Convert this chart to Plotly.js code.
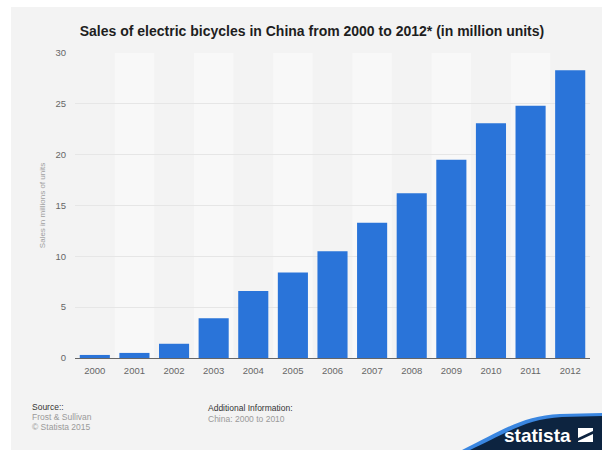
<!DOCTYPE html>
<html>
<head>
<meta charset="utf-8">
<script src="https://cdn.plot.ly/plotly-3.0.1.min.js"></script>
<style>
html,body{margin:0;padding:0;background:#ffffff;}
#chart{position:absolute;left:11px;top:7px;width:591px;height:443px;}
</style>
</head>
<body>
<div id="chart"></div>
<script>
// ---- data ----
var years = ["2000","2001","2002","2003","2004","2005","2006","2007","2008","2009","2010","2011","2012"];
var sales = [0.3, 0.5, 1.4, 3.9, 6.6, 8.4, 10.5, 13.3, 16.2, 19.5, 23.1, 24.8, 28.3];
var yTicks = [0, 5, 10, 15, 20, 25, 30];

// ---- layout geometry helpers (div pixel -> paper coords) ----
var W = 591, H = 443;
var M = {l: 64, r: 12, t: 46, b: 92};
var PW = W - M.l - M.r, PH = H - M.t - M.b;
function px(x){ return (x - 11 - M.l) / PW; }      // page x -> paper x
function py(y){ return (H - M.b - (y - 7)) / PH; } // page y -> paper y

var shapes = [];
// alternating lighter column bands
for (var i = 0; i < years.length; i++) {
  if (i % 2 === 1) {
    shapes.push({type:'rect', layer:'below', xref:'x', yref:'paper',
      x0: i - 0.5, x1: i + 0.5, y0: 0, y1: 1,
      fillcolor:'#f8f8f8', line:{width:0}});
  }
}
// statista logo background
function P(x,y){ return px(x).toFixed(4) + ',' + py(y).toFixed(4); }
shapes.push({type:'path', layer:'above', xref:'paper', yref:'paper',
  path: 'M' + P(462,450) + ' C' + P(500,432) + ' ' + P(520,416) + ' ' + P(560,414) +
        ' L' + P(602,413) + ' L' + P(602,450) + ' Z',
  fillcolor:'#3a86e0', line:{width:0}});
shapes.push({type:'path', layer:'above', xref:'paper', yref:'paper',
  path: 'M' + P(470,450) + ' C' + P(505,434) + ' ' + P(525,419) + ' ' + P(562,417) +
        ' L' + P(602,416) + ' L' + P(602,450) + ' Z',
  fillcolor:'#0d2440', line:{width:0}});
// logo icon
shapes.push({type:'rect', layer:'above', xref:'paper', yref:'paper',
  x0: px(578), x1: px(593), y0: py(442), y1: py(428),
  fillcolor:'#ffffff', line:{width:0}});
shapes.push({type:'path', layer:'above', xref:'paper', yref:'paper',
  path: 'M' + P(578,438) + ' L' + P(593,431) + ' L' + P(593,434) + ' L' + P(578,441) + ' Z',
  fillcolor:'#0d2440', line:{width:0}});

var gray = '#9a9a9a';
var ff = 'Liberation Sans, Arial, sans-serif';
var annotations = [
  {text:'Source::', x:px(30), y:py(407), xref:'paper', yref:'paper', xanchor:'left', yanchor:'middle', showarrow:false,
   font:{family:ff, size:8.5, color:'#333333'}},
  {text:'Frost &amp; Sullivan', x:px(30), y:py(417), xref:'paper', yref:'paper', xanchor:'left', yanchor:'middle', showarrow:false,
   font:{family:ff, size:8.5, color:gray}},
  {text:'© Statista 2015', x:px(30), y:py(427), xref:'paper', yref:'paper', xanchor:'left', yanchor:'middle', showarrow:false,
   font:{family:ff, size:8.5, color:gray}},
  {text:'Additional Information:', x:px(206), y:py(408), xref:'paper', yref:'paper', xanchor:'left', yanchor:'middle', showarrow:false,
   font:{family:ff, size:8.5, color:'#333333'}},
  {text:'China: 2000 to 2010', x:px(206), y:py(419), xref:'paper', yref:'paper', xanchor:'left', yanchor:'middle', showarrow:false,
   font:{family:ff, size:8.5, color:gray}},
  {text:'<b>statista</b>', x:px(573), y:py(435), xref:'paper', yref:'paper', xanchor:'right', yanchor:'middle', showarrow:false,
   font:{family:'Liberation Sans Narrow, Liberation Sans, Arial, sans-serif', size:19, color:'#ffffff'}}
];

var trace = {
  type:'bar', x: years, y: sales,
  marker:{color:'#2a74d9', line:{width:0}},
  hoverinfo:'x+y'
};

var layout = {
  width: W, height: H,
  margin: M,
  paper_bgcolor:'#f3f3f3',
  plot_bgcolor:'rgba(0,0,0,0)',
  bargap: 0.24,
  showlegend:false,
  title:{text:'<b>Sales of electric bicycles in China from 2000 to 2012* (in million units)</b>',
    x: px(312), xanchor:'center', xref:'paper', y: 1 - (31 - 7)/H, yanchor:'middle',
    font:{family:ff, size:14, color:'#1e1e1e'}},
  xaxis:{type:'category', range:[-0.5, years.length - 0.5], showgrid:false,
    showline:true, linecolor:'#666666', linewidth:1, ticks:'', zeroline:false,
    tickfont:{family:ff, size:9.5, color:'#666666'},
    ticklabelstandoff:4, fixedrange:true},
  yaxis:{range:[0,30], tickvals:yTicks, showgrid:true, gridcolor:'#e6e6e6', gridwidth:1,
    zeroline:false, showline:false, ticks:'',
    tickfont:{family:ff, size:9.5, color:'#666666'},
    ticklabelstandoff:8,
    title:{text:'Sales in millions of units', standoff:8,
      font:{family:ff, size:8, color:'#a0a0a0'}},
    fixedrange:true},
  shapes: shapes,
  annotations: annotations
};

Plotly.newPlot('chart', [trace], layout, {displayModeBar:false, staticPlot:true});
</script>
</body>
</html>
